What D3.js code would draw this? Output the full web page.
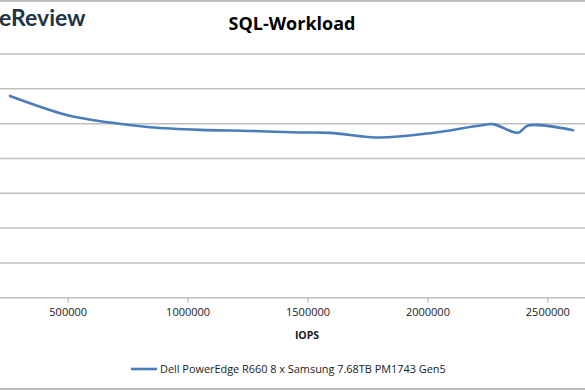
<!DOCTYPE html>
<html>
<head>
<meta charset="utf-8">
<script src="https://cdn.jsdelivr.net/npm/d3@7"></script>
<style>
  body { margin: 0; background: #fff; }
  svg { display: block; }
</style>
</head>
<body>
<script>
// chart data (latency in ms vs IOPS)
var seriesName = "Dell PowerEdge R660 8 x Samsung 7.68TB PM1743 Gen5";
var iops    = [259400, 495800, 676400, 843200, 1051700, 1260200, 1468700, 1593800, 1802300, 2010800, 2219300, 2273500, 2377800, 2419500, 2607200];
var latency = [1.159, 1.050, 1.006, 0.979, 0.964, 0.958, 0.949, 0.947, 0.920, 0.945, 0.989, 0.997, 0.948, 0.989, 0.962];
var xTicks = [500000, 1000000, 1500000, 2000000, 2500000];
var yTicks = [0, 0.2, 0.4, 0.6, 0.8, 1.0, 1.2, 1.4];

var W = 585, H = 390;

var svg = d3.select("body").append("svg")
    .attr("width", W)
    .attr("height", H);

// the plot runs off the left edge (y axis is cropped away)
var x = d3.scaleLinear()
    .domain([0, 2700000])
    .range([-52.2, 595.3]);
var y = d3.scaleLinear()
    .domain([0, 1.4])
    .range([297.7, 54]);

// outer border lines
svg.append("line").attr("x1", 0).attr("x2", W).attr("y1", 1).attr("y2", 1)
    .style("stroke", "#a6a6a6").style("stroke-width", 1.5);
svg.append("line").attr("x1", 0).attr("x2", W).attr("y1", 389).attr("y2", 389)
    .style("stroke", "#a6a6a6").style("stroke-width", 1.5);

// logo text (partly cropped in the original)
svg.append("text")
    .attr("x", -1)
    .attr("y", 26)
    .style("font-family", "Lato, 'Open Sans', sans-serif")
    .style("font-size", "23px")
    .style("font-weight", "bold")
    .style("fill", "#1d3444")
    .text("eReview");

// title
svg.append("text")
    .attr("x", 292)
    .attr("y", 30)
    .attr("text-anchor", "middle")
    .style("font-family", "'Open Sans', sans-serif")
    .style("font-size", "18px")
    .style("font-weight", "bold")
    .style("fill", "#000")
    .text("SQL-Workload");

// horizontal gridlines
svg.append("g")
    .selectAll("line")
    .data(yTicks.slice(1))
    .enter().append("line")
      .attr("x1", x(0))
      .attr("x2", x(2700000))
      .attr("y1", function(d) { return y(d); })
      .attr("y2", function(d) { return y(d); })
      .style("stroke", "#bfbfbf")
      .style("stroke-width", 1.5);

// x axis
var xAxis = svg.append("g")
    .attr("transform", "translate(0," + y(0) + ")")
    .call(d3.axisBottom(x).tickValues(xTicks).tickSize(5).tickPadding(6)
          .tickFormat(d3.format("d")));
xAxis.select(".domain")
    .attr("d", "M" + x(0) + ",0H" + x(2700000))
    .style("stroke", "#bfbfbf")
    .style("stroke-width", 1.5);
xAxis.selectAll(".tick line").style("stroke", "#a6a6a6");
xAxis.selectAll("text")
    .style("font-family", "'Open Sans', sans-serif")
    .style("font-size", "11px")
    .style("fill", "#1a1a1a");

// axis title
svg.append("text")
    .attr("x", 307)
    .attr("y", 339)
    .attr("text-anchor", "middle")
    .style("font-family", "'Open Sans', sans-serif")
    .style("font-size", "10.5px")
    .style("font-weight", "bold")
    .style("fill", "#1a1a1a")
    .text("IOPS");

// data line
var pts = iops.map(function(d, i) { return [d, latency[i]]; });
var line = d3.line()
    .x(function(d) { return x(d[0]); })
    .y(function(d) { return y(d[1]); })
    .curve(d3.curveCatmullRom.alpha(0.5));

svg.append("path")
    .datum(pts)
    .attr("d", line)
    .style("fill", "none")
    .style("stroke", "#4a7ebb")
    .style("stroke-width", 2.6)
    .style("stroke-linecap", "round");

// legend
var legend = svg.append("g").attr("transform", "translate(131,369)");
legend.append("line")
    .attr("x1", 0).attr("x2", 26)
    .style("stroke", "#4a7ebb")
    .style("stroke-width", 2.6);
legend.append("text")
    .attr("x", 29)
    .attr("y", 4)
    .style("font-family", "'Open Sans', sans-serif")
    .style("font-size", "10.9px")
    .style("fill", "#1a1a1a")
    .text(seriesName);
</script>
</body>
</html>
